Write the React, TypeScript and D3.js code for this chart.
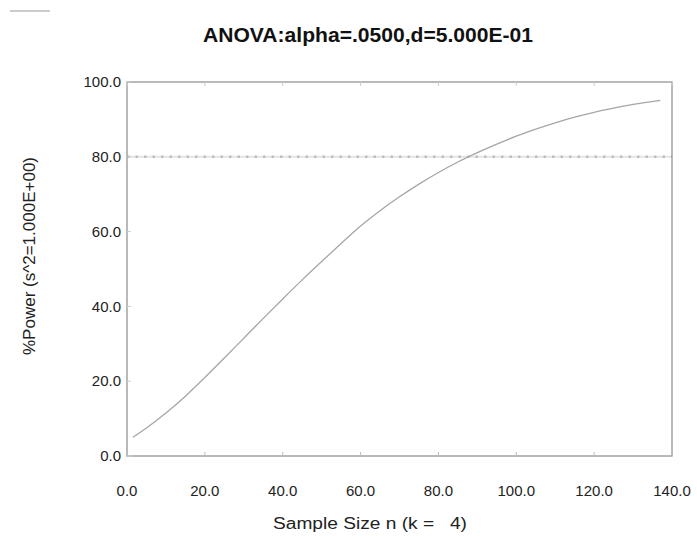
import React from 'react';
import * as d3 from 'd3';

// values
const sampleSizes = [1.5, 5, 10, 15, 20, 25, 30, 35, 40, 45, 50, 55, 60, 65, 70, 75, 80, 85, 90, 95, 100, 105, 110, 115, 120, 125, 130, 137];
const powerValues = [5, 7.5, 11.5, 16, 21, 26.2, 31.5, 36.8, 42, 47.1, 52, 56.8, 61.5, 65.6, 69.3, 72.7, 75.8, 78.6, 81.1, 83.4, 85.5, 87.4, 89.1, 90.6, 91.9, 93, 94, 95.1];
const xTicks = [0, 20, 40, 60, 80, 100, 120, 140];
const yTicks = [0, 20, 40, 60, 80, 100];
const targetPower = 80;

const title = 'ANOVA:alpha=.0500,d=5.000E-01';
const xLabel = 'Sample Size n (k =   4)';
const yLabel = '%Power (s^2=1.000E+00)';

const W = 697;
const H = 536;
const margin = { top: 82, right: 25, bottom: 80, left: 127 };

const App = () => {
  const x = d3.scaleLinear().domain([0, 140]).range([margin.left, W - margin.right]);
  const y = d3.scaleLinear().domain([0, 100]).range([H - margin.bottom, margin.top]);

  const points = sampleSizes.map((n, i) => ({ n, p: powerValues[i] }));
  const line = d3
    .line<{ n: number; p: number }>()
    .x((d) => x(d.n))
    .y((d) => y(d.p))
    .curve(d3.curveMonotoneX);

  const font = 'Arial, "Liberation Sans", Helvetica, sans-serif';

  return (
    <svg
      width={W}
      height={H}
      style={{ position: 'absolute', left: 0, top: 0, background: '#fff' }}
      fontFamily={font}
    >
      {/* stray mark in the top-left corner */}
      <line x1={10} x2={50} y1={11} y2={11} stroke="#999" strokeWidth={1} />

      <text
        x={368}
        y={42}
        textAnchor="middle"
        fontSize={20}
        fontWeight="bold"
        fill="#111"
        textLength={330}
        lengthAdjust="spacingAndGlyphs"
      >
        {title}
      </text>

      {/* target power line */}
      <line x1={x(0)} x2={x(140)} y1={y(targetPower)} y2={y(targetPower)} stroke="#e4e4e4" strokeWidth={2} />
      <line
        x1={x(0)}
        x2={x(140)}
        y1={y(targetPower)}
        y2={y(targetPower)}
        stroke="#bdbdbd"
        strokeWidth={2.5}
        strokeDasharray="2.5,6"
      />

      {/* power curve */}
      <path d={line(points) || ''} fill="none" stroke="#a6a6a6" strokeWidth={1.3} />

      {/* frame */}
      <rect
        x={x(0)}
        y={y(100)}
        width={x(140) - x(0)}
        height={y(0) - y(100)}
        fill="none"
        stroke="#8c8c8c"
        strokeWidth={1.2}
      />

      {xTicks.map((t) => (
        <g key={'x' + t}>
          <line x1={x(t)} x2={x(t)} y1={y(0)} y2={y(0) - 4} stroke="#bbb" />
          <line x1={x(t)} x2={x(t)} y1={y(100)} y2={y(100) + 4} stroke="#ccc" />
          <text x={x(t)} y={496} textAnchor="middle" fontSize={15} fill="#222">
            {t.toFixed(1)}
          </text>
        </g>
      ))}

      {yTicks.map((t) => (
        <g key={'y' + t}>
          <line x1={x(0)} x2={x(0) + 4} y1={y(t)} y2={y(t)} stroke="#ccc" />
          <text x={121} y={y(t)} dy="0.35em" textAnchor="end" fontSize={15} fill="#222">
            {t.toFixed(1)}
          </text>
        </g>
      ))}

      <text
        x={370}
        y={529}
        textAnchor="middle"
        fontSize={16}
        fill="#222"
        style={{ whiteSpace: 'pre' }}
        textLength={194}
        lengthAdjust="spacingAndGlyphs"
      >
        {xLabel}
      </text>
      <text
        transform={`translate(35,256) rotate(-90)`}
        textAnchor="middle"
        fontSize={16}
        fill="#222"
        textLength={198}
        lengthAdjust="spacingAndGlyphs"
      >
        {yLabel}
      </text>
    </svg>
  );
};

export default App;
